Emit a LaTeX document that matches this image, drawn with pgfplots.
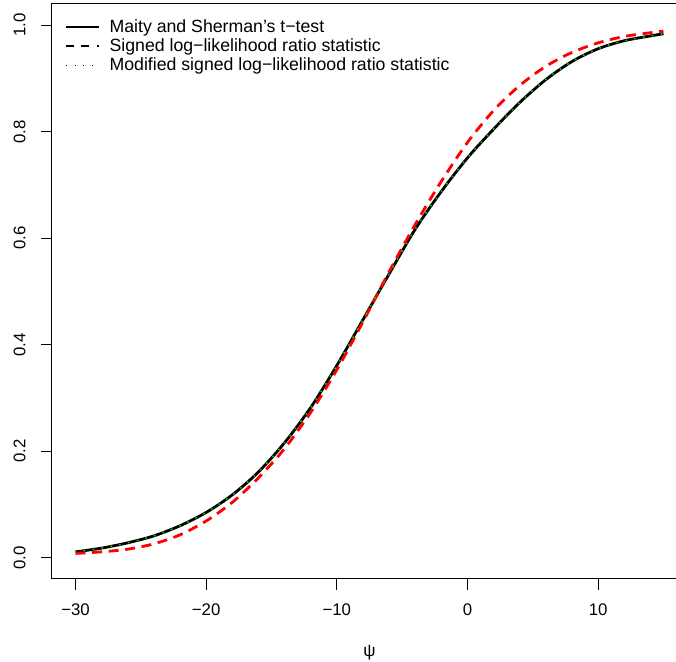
\documentclass[border=0pt]{standalone}
\usepackage{pgfplots}
\pgfplotsset{compat=1.18}
\usepackage{fontspec}
\setmainfont{Liberation Sans}

% p-value functions
\pgfplotstableread{
x     p
-30   0.011
-28   0.018
-26   0.028
-24   0.041
-22   0.060
-20   0.085
-18   0.118
-16   0.161
-14   0.216
-12   0.282
-10   0.361
-8    0.447
-6    0.533
-4    0.617
-2    0.688
0     0.751
2     0.805
4     0.855
6     0.898
8     0.932
10    0.956
12    0.971
14    0.980
15    0.984
}\maity
\pgfplotstableread{
x     p
-30   0.008
-28   0.011
-26   0.016
-24   0.026
-22   0.043
-20   0.069
-18   0.104
-16   0.150
-14   0.205
-12   0.273
-10   0.353
-8    0.443
-6    0.537
-4    0.626
-2    0.707
0     0.780
2     0.840
4     0.887
6     0.923
8     0.949
10    0.967
12    0.979
14    0.986
15    0.989
}\slr
\pgfplotstableread{
x     p
-30   0.011
-28   0.018
-26   0.028
-24   0.041
-22   0.060
-20   0.085
-18   0.118
-16   0.161
-14   0.216
-12   0.282
-10   0.361
-8    0.447
-6    0.533
-4    0.617
-2    0.688
0     0.751
2     0.805
4     0.855
6     0.898
8     0.932
10    0.956
12    0.971
14    0.980
15    0.984
}\mslr

\definecolor{rgreen}{RGB}{0,205,0}

\begin{document}
\begin{tikzpicture}
\fontsize{8.4}{10}\selectfont
\begin{axis}[
  at={(0,0)}, anchor=south west,
  scale only axis, width=317.5pt, height=287.5pt,
  xmin=-31.8, xmax=16.8, ymin=-0.04, ymax=1.04,
  axis line style={line width=0.5pt},
  tick align=outside, tick style={black, line width=0.5pt},
  major tick length=5.5pt,
  xtick={-30,-20,-10,0,10},
  xticklabels={−30,−20,−10,0,10},
  ytick={0,0.2,0.4,0.6,0.8,1},
  yticklabels={0.0,0.2,0.4,0.6,0.8,1.0},
  xtick pos=bottom, ytick pos=left,
  xticklabel style={font=\fontsize{8.4}{10}\selectfont, anchor=north, inner sep=0pt},
  yticklabel style={font=\fontsize{8.4}{10}\selectfont, rotate=90, anchor=south, inner sep=0pt},
  xticklabel shift=6.5pt, yticklabel shift=7.5pt,
  xlabel={ψ}, xlabel style={font=\fontsize{8.6}{10}\selectfont, at={(axis description cs:0.5,0)}, anchor=center, yshift=-37pt},
  legend style={draw=none, fill=none, at={(6.5pt,282pt)}, anchor=north west,
    font=\fontsize{8.85}{10}\selectfont, inner sep=0pt, row sep=-2.1pt,
    cells={anchor=west}},
  legend cell align=left,
  legend image code/.code={\draw[#1] (0pt,0pt) -- (16pt,0pt); \path (19pt,0pt);},
]
\addlegendimage{black, line width=1.1pt}
\addlegendentry{Maity and Sherman’s t−test}
\addlegendimage{black, line width=1.1pt, dash pattern=on 4pt off 3.5pt}
\addlegendentry{Signed log−likelihood ratio statistic}
\addlegendimage{black, line width=0.5pt, dash pattern=on 0.5pt off 3.7pt}
\addlegendentry{Modified signed log−likelihood ratio statistic}

\addplot[forget plot, black, line width=1.4pt, smooth] table[x=x, y=p] {\maity};
\addplot[forget plot, red, line width=1.4pt, smooth, dash pattern=on 5pt off 3.3pt] table[x=x, y=p] {\slr};
\addplot[forget plot, rgreen, line width=1.1pt, smooth, line cap=round, dash pattern=on 0pt off 4.5pt] table[x=x, y=p] {\mslr};
\end{axis}
\pgfresetboundingbox
\useasboundingbox (-26pt,-41.5pt) rectangle (312pt,289.5pt);
\end{tikzpicture}
\end{document}
